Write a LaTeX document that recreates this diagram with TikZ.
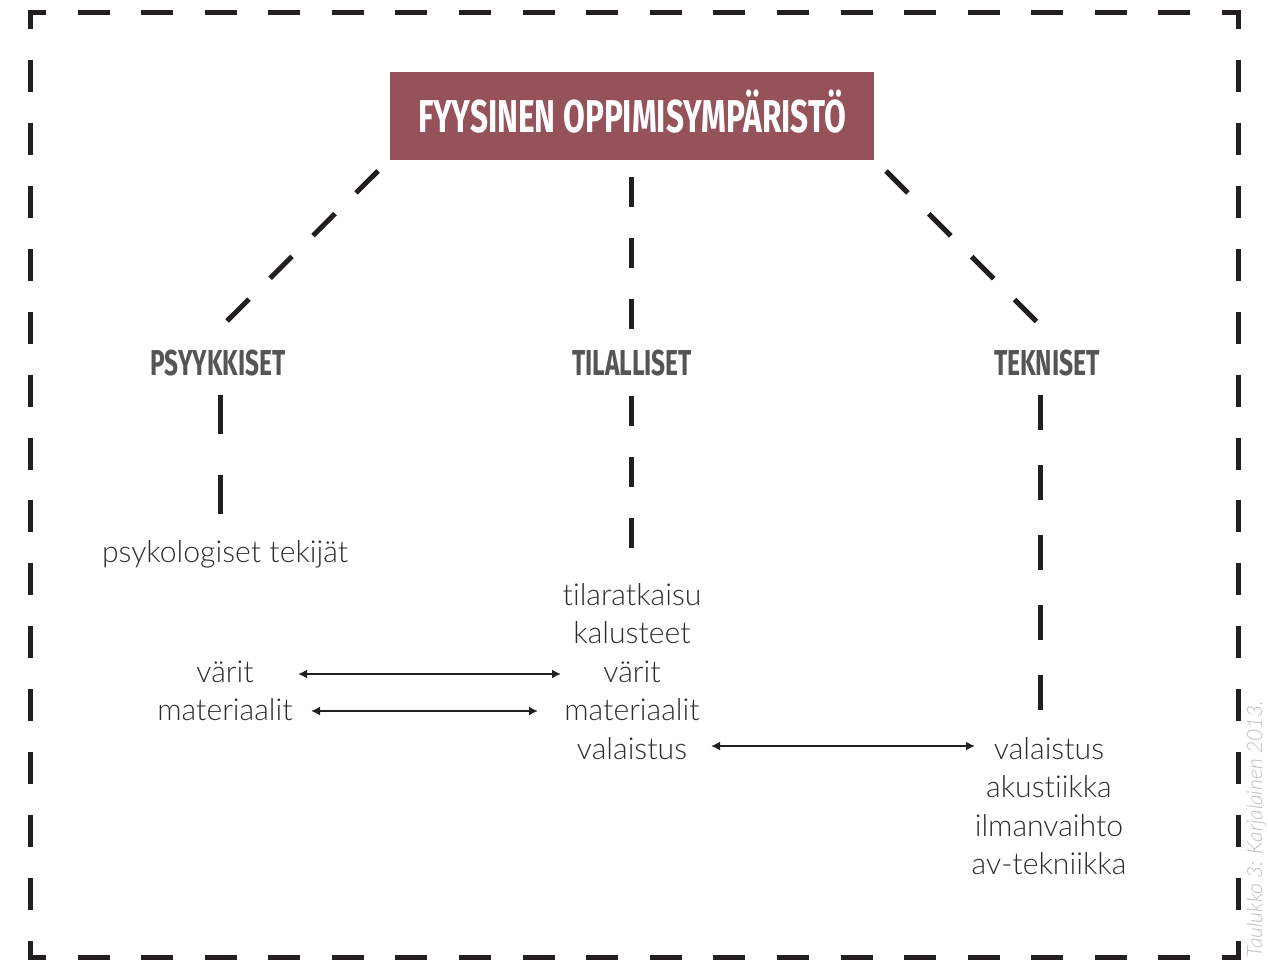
\documentclass[tikz,border=0pt]{standalone}
\usepackage{fontspec}
\usepackage{graphicx}
\usetikzlibrary{arrows.meta}
\newfontfamily\bodyfont[Ligatures=NoCommon]{Lato Light}
\newfontfamily\headfont{Fira Sans}
\definecolor{titlec}{RGB}{150,82,90}
\definecolor{labc}{RGB}{85,85,85}
\definecolor{bodyc}{RGB}{45,45,45}
\definecolor{sidec}{RGB}{190,190,190}
\definecolor{linec}{RGB}{35,31,32}
\begin{document}
\begin{tikzpicture}[x=1pt,y=-1pt,
  dl/.style={line width=5pt, draw=linec, line cap=butt},
  body/.style={font=\bodyfont\fontsize{30.2}{30}\selectfont, text=bodyc, inner sep=0pt, anchor=base},
  lab/.style={text=labc, inner sep=0pt, anchor=base},
  arr/.style={line width=2.4pt, draw=linec, {Latex[length=9pt,width=9pt]}-{Latex[length=9pt,width=9pt]}}]
\useasboundingbox (0,0) rectangle (1268,960);
% border
\coordinate (tl) at (27.5,13); \coordinate (tr) at (1240.5,13);
\coordinate (bl) at (27.5,957); \coordinate (br) at (1240.5,957);
\coordinate (lt) at (30,10.5); \coordinate (lb) at (30,959.5);
\coordinate (rt) at (1238,10.5); \coordinate (rb) at (1238,959.5);
\draw[dl, dash pattern=on 32pt off 31.58pt, dash phase=13.5pt] (tl) -- (tr);
\draw[dl, dash pattern=on 32pt off 31.58pt, dash phase=13.5pt] (bl) -- (br);
\draw[dl, dash pattern=on 32pt off 30.93pt, dash phase=13.5pt] (lt) -- (lb);
\draw[dl, dash pattern=on 32pt off 30.93pt, dash phase=13.5pt] (rt) -- (rb);
% title
\node[fill=titlec, minimum width=484pt, minimum height=88pt, inner sep=0pt] (title) at (632,116) {};
\node[text=white, inner sep=0pt, anchor=base] (titletext) at (632,133)
  {\headfont\bfseries\resizebox{428pt}{\height}{\fontsize{46}{46}\selectfont FYYSINEN OPPIMISYMPÄRISTÖ}};
% category labels
\node[lab] (psy) at (218,375) {\headfont\bfseries\resizebox{135pt}{\height}{\fontsize{36}{36}\selectfont PSYYKKISET}};
\node[lab] (til) at (632,375) {\headfont\bfseries\resizebox{120pt}{\height}{\fontsize{36}{36}\selectfont TILALLISET}};
\node[lab] (tek) at (1047,375) {\headfont\bfseries\resizebox{106pt}{\height}{\fontsize{36}{36}\selectfont TEKNISET}};
% dashed connectors title -> labels
\coordinate (c1a) at (378,171); \coordinate (c1b) at (227,321);
\coordinate (c2a) at (631,177); \coordinate (c2b) at (631,329);
\coordinate (c3a) at (886,171); \coordinate (c3b) at (1037,322);
\draw[dl, dash pattern=on 31pt off 29.6pt] (c1a) -- (c1b);
\draw[dl, dash pattern=on 30pt off 31pt] (c2a) -- (c2b);
\draw[dl, dash pattern=on 31pt off 29.6pt] (c3a) -- (c3b);
% dashed connectors labels -> lists
\coordinate (l1a) at (220,395); \coordinate (l1b) at (220,514);
\coordinate (l2a) at (631,396); \coordinate (l2b) at (631,548);
\coordinate (l3a) at (1040,395); \coordinate (l3b) at (1040,710);
\draw[dl, dash pattern=on 39pt off 41pt] (l1a) -- (l1b);
\draw[dl, dash pattern=on 30pt off 31pt] (l2a) -- (l2b);
\draw[dl, dash pattern=on 35pt off 35pt] (l3a) -- (l3b);
% left list
\node[body] (psyk) at (225,562) {psykologiset tekijät};
\node[body] (lvar) at (225,682) {värit};
\node[body] (lmat) at (225,720) {materiaalit};
% middle list
\node[body] (mtil) at (632,605) {tilaratkaisu};
\node[body] (mkal) at (632,643) {kalusteet};
\node[body] (mvar) at (632,682) {värit};
\node[body] (mmat) at (632,720) {materiaalit};
\node[body] (mval) at (632,759) {valaistus};
% right list
\node[body] (rval) at (1049,759) {valaistus};
\node[body] (raku) at (1049,797) {akustiikka};
\node[body] (rilm) at (1049,836) {ilmanvaihto};
\node[body] (rav) at (1049,874) {av-tekniikka};
% arrows
\coordinate (a1a) at (298,674); \coordinate (a1b) at (561,674);
\coordinate (a2a) at (311,711); \coordinate (a2b) at (538,711);
\coordinate (a3a) at (711,746); \coordinate (a3b) at (975,746);
\draw[arr] (a1a) -- (a1b);
\draw[arr] (a2a) -- (a2b);
\draw[arr] (a3a) -- (a3b);
% source note
\node[rotate=90, text=sidec, inner sep=0pt, anchor=base] (src) at (1262,829)
  {\bodyfont\itshape\fontsize{21}{21}\selectfont Taulukko 3: Karjalainen 2013.};
\end{tikzpicture}
\end{document}
